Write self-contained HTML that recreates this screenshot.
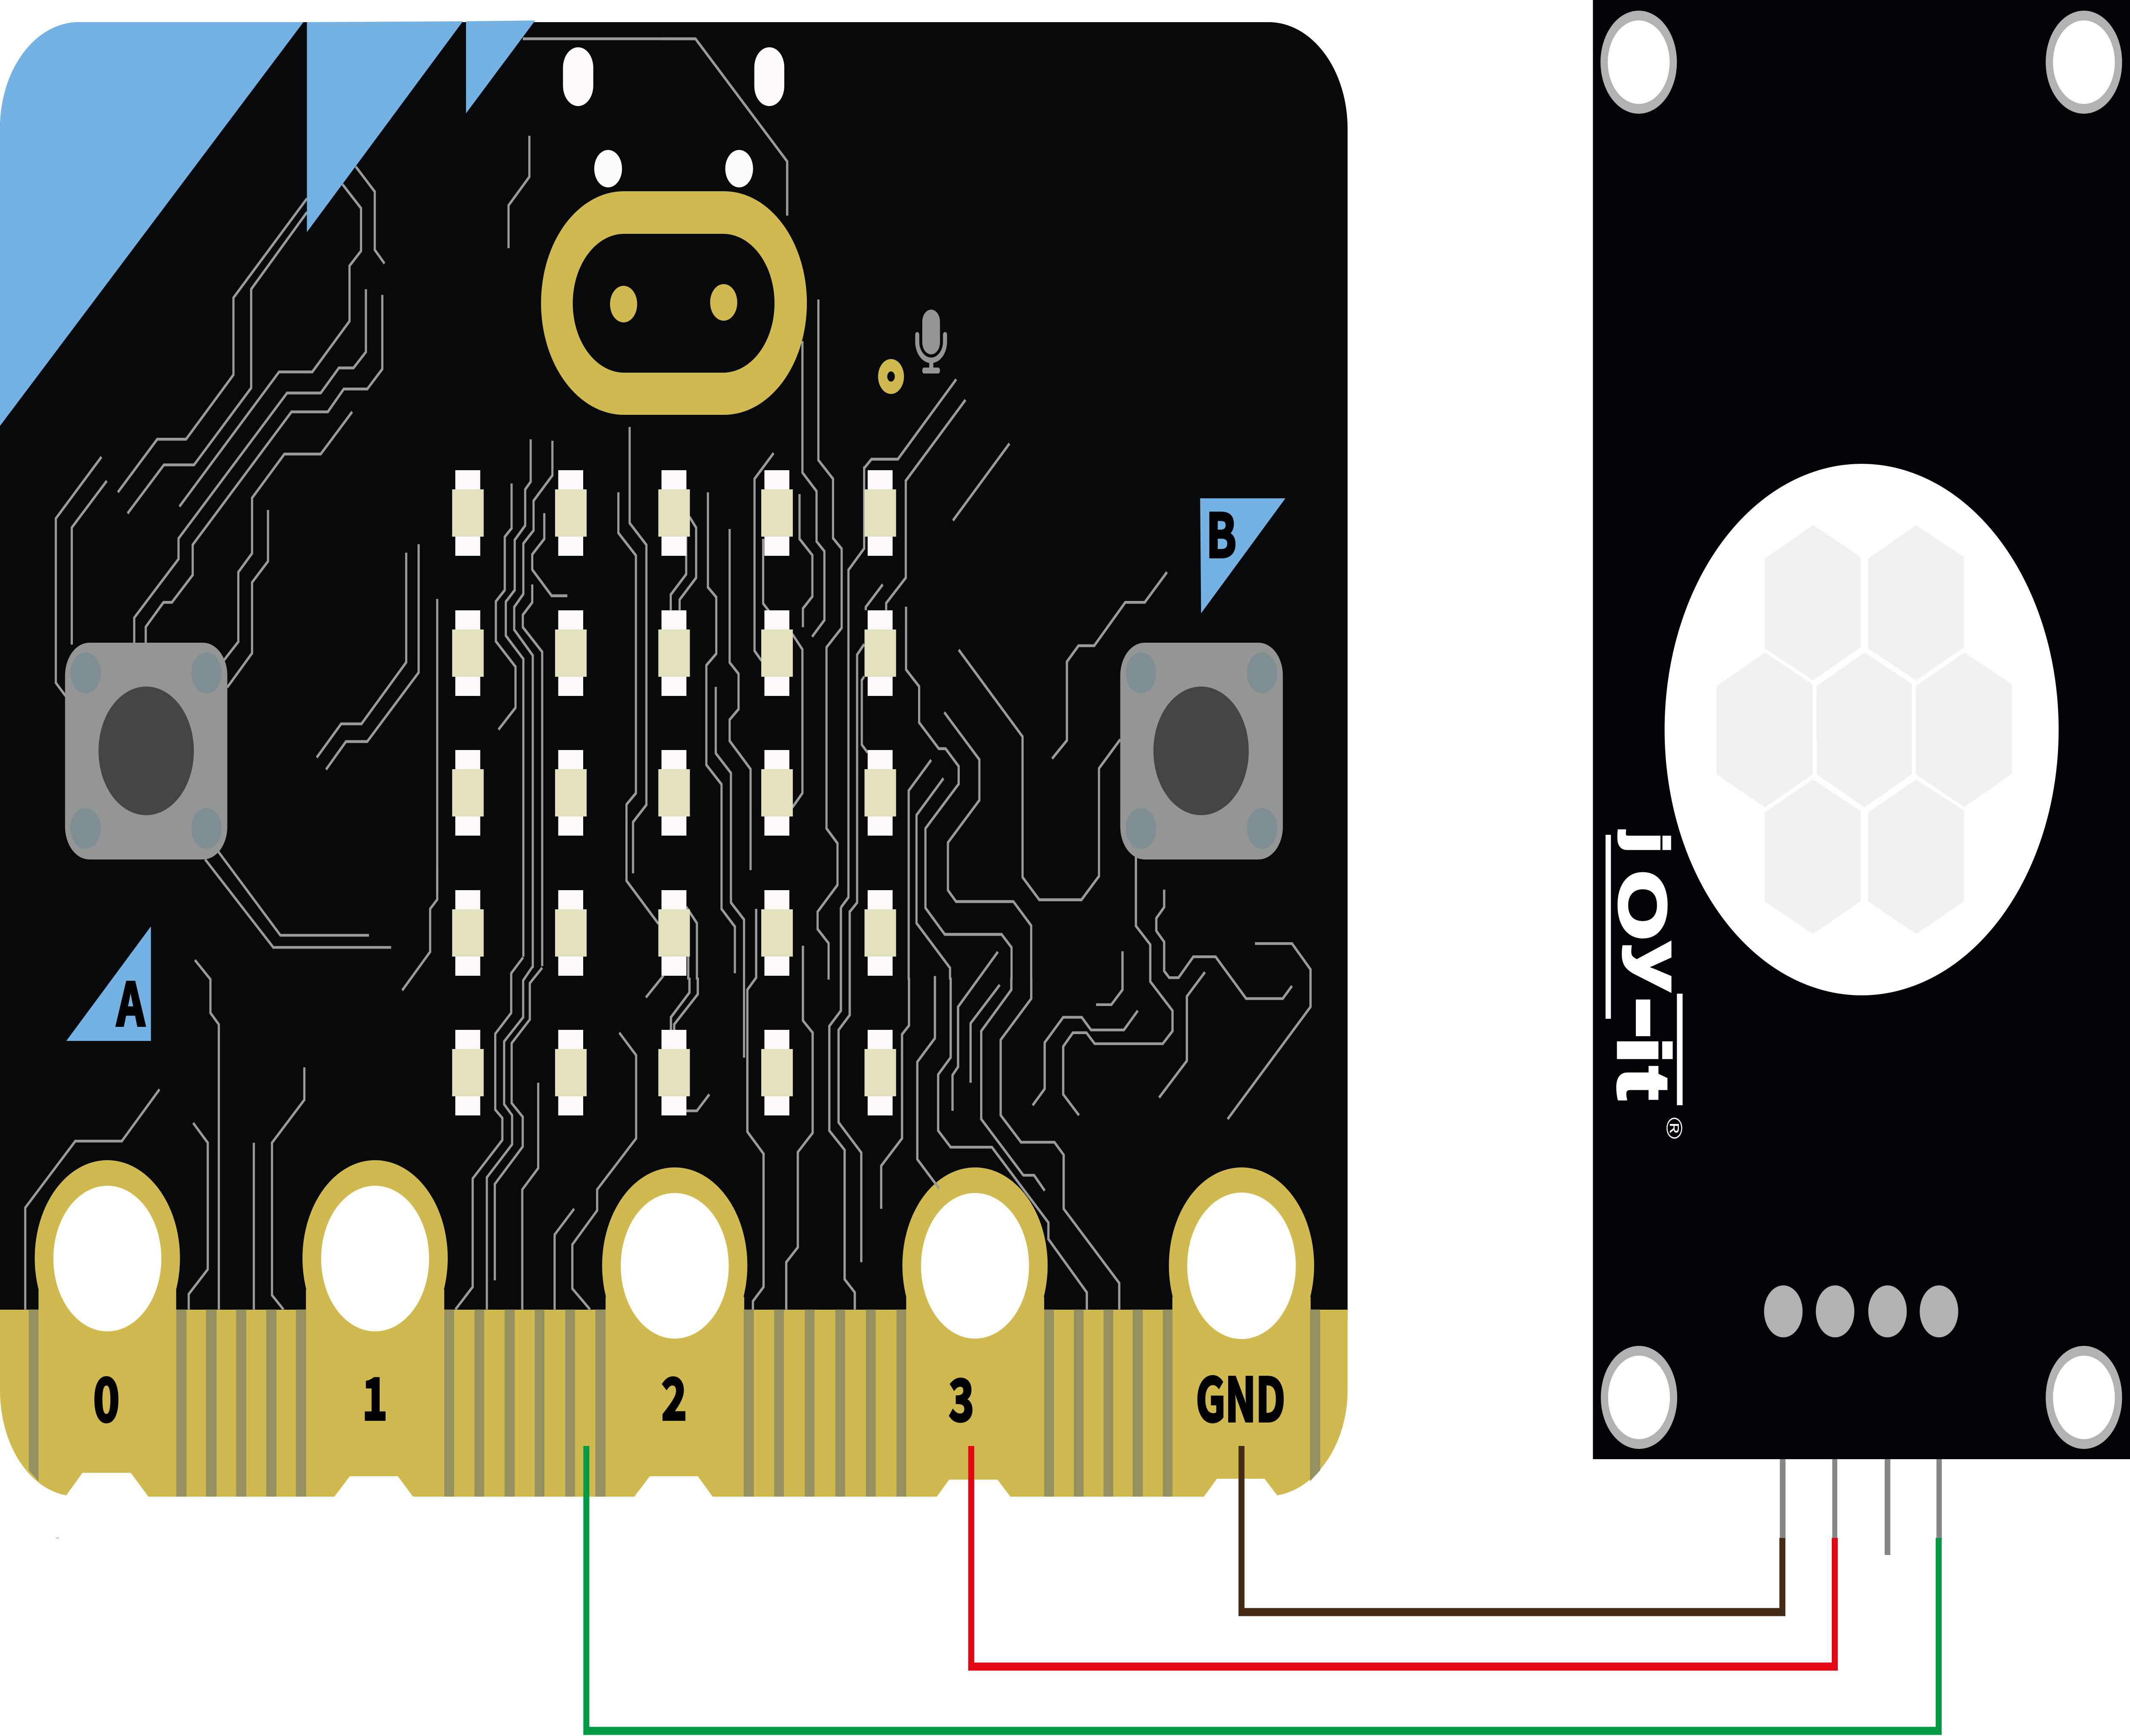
<!DOCTYPE html>
<html><head><meta charset="utf-8"><style>
html,body{margin:0;padding:0;background:#fff;width:100%;height:100%;overflow:hidden}
svg{display:block;width:100vw;height:100vh}
polyline{fill:none;stroke:#999b9b;stroke-linejoin:miter}
.l{font-family:"Noto Sans CJK JP","Liberation Sans",sans-serif;font-weight:700;fill:#000;stroke:#000;stroke-width:6;text-anchor:middle}
.p{fill:#d0ba50}.h{fill:#fff}.s{fill:#949060}.led{fill:#fdf9fd}.bei{fill:#e3e1bd}
.bb{fill:#949695}.bd{fill:#444}.bc{fill:#7e8e92}.hex{fill:#f1f1ef}.ring{fill:#b2b2b2}
.logo{font-family:"Liberation Sans",sans-serif;font-weight:700;fill:#fff;stroke:#fff;stroke-width:10}
</style></head><body>
<svg xmlns="http://www.w3.org/2000/svg" viewBox="0 0 6746 4076" preserveAspectRatio="none">
<rect width="6746" height="4076" fill="#fff"/>

<!-- micro:bit board -->
<path d="M0,3100V302A250,250 0 0 1 250,52H4018A250,250 0 0 1 4268,302V3100Z" fill="#07090b"/>

<!-- pads and gold edge -->
<g class="p">
<circle cx="340" cy="2954" r="230"/><rect x="122" y="3028" width="436" height="80"/>
<circle cx="1188" cy="2954" r="230"/><rect x="969" y="3028" width="438" height="80"/>
<circle cx="2137" cy="2971" r="230"/><rect x="1918" y="3045" width="439" height="60"/>
<circle cx="3088" cy="2971" r="230"/><rect x="2870" y="3045" width="437" height="60"/>
<circle cx="3932" cy="2971" r="230"/><rect x="3713" y="3045" width="438" height="60"/>
<path d="M0,3075H4268V3264C4268,3390 4170,3495 4045,3511L4005,3472H3854L3813,3514H3200L3159,3474H3006L2967,3514H2257L2210,3466H2058L2009,3514H1308L1260,3466H1108L1059,3514H470L414,3458H261L210,3511C90,3495 0,3390 0,3264Z"/>
</g>
<g class="s" transform="translate(0,2050) scale(1.403,1.2921)">
<polygon points="65,793 87,793 87,1105 65,1085"/>
<rect x="398" y="793" width="23" height="340"/><rect x="465" y="793" width="24" height="340"/><rect x="533" y="793" width="23" height="340"/><rect x="601" y="793" width="23" height="340"/><rect x="668" y="793" width="23" height="340"/>
<rect x="1003" y="793" width="22" height="340"/><rect x="1071" y="793" width="22" height="340"/><rect x="1139" y="793" width="23" height="340"/><rect x="1207" y="793" width="22" height="340"/><rect x="1276" y="793" width="22" height="340"/><rect x="1344" y="793" width="23" height="340"/>
</g>
<g class="s" transform="translate(2100,2050) scale(1.4668,1.2921)">
<rect x="174" y="793" width="22" height="340"/><rect x="240" y="793" width="21" height="340"/><rect x="306" y="793" width="21" height="340"/><rect x="372" y="793" width="21" height="340"/><rect x="438" y="793" width="21" height="340"/><rect x="504" y="793" width="21" height="340"/>
<rect x="823" y="793" width="21" height="340"/><rect x="887" y="793" width="21" height="340"/><rect x="951" y="793" width="21" height="340"/><rect x="1014" y="793" width="22" height="340"/><rect x="1079" y="793" width="21" height="340"/>
<polygon points="1397,793 1419,793 1419,1085 1397,1105"/>
</g>
<g class="h">
<circle cx="340" cy="2955" r="171"/><circle cx="1188" cy="2955" r="171"/><circle cx="2137" cy="2972" r="171"/><circle cx="3088" cy="2972" r="171"/><circle cx="3932" cy="2972" r="172"/>
</g>

<!-- traces: upper left -->
<g transform="scale(1.403,1.3393)" stroke-width="5">
<polyline points="1195,238 1195,310 1148,360 1148,435"/>
<polyline points="1180,68 1568,68"/>
<polyline points="693,348 527,522 527,657 420,770 355,770 266,863"/>
<polyline points="693,372 567,507 567,680 438,815 370,815 288,900"/>
<polyline points="773,323 815,365 815,440 789,466 789,563 705,652 630,652 405,888"/>
<polyline points="803,292 846,336 846,438 868,462"/>
<polyline points="826,507 826,617 798,645 765,645 724,689 648,689 403,944 403,980 303,1083 303,1127"/>
<polyline points="863,517 863,647 829,682 776,682 740,722 658,722 435,955 435,1008 388,1056 369,1056 329,1099 329,1127"/>
<polyline points="795,722 724,796 642,796 569,873 569,970 538,1003 538,1125 505,1158"/>
<polyline points="605,894 605,984 569,1021 569,1145 513,1205"/>
<polyline points="229,801 126,909 126,1197 148,1220"/>
<polyline points="241,843 162,925 162,1130"/>
<polyline points="917,969 917,1161 816,1269 770,1269 715,1328"/>
<polyline points="945,954 945,1179 829,1300 781,1300 736,1349"/>
<polyline points="987,1050 987,1568"/>
</g>
<!-- traces: upper right -->
<g transform="translate(2100,0) scale(1.4668,1.3393)" stroke-width="5">
<polyline points="0,68 70,68 268,283 268,378"/>
<polyline points="633,665 507,805 450,805 435,820"/>
<polyline points="653,701 523,844"/>
<polyline points="1088,1003 1040,1056 998,1056 931,1132 897,1132 872,1160 872,1298 840,1330"/>
</g>
<!-- traces: centre left -->
<g transform="translate(1500,1000) scale(0.8291)" stroke-width="8.4">
<polyline points="145,163 145,290 119,314 119,465 85,497 85,610 160,682 160,798 95,860"/>
<polyline points="218,38 218,158 197,180 197,282 157,323 157,465 123,498 123,594 190,660 190,1503"/>
<polyline points="301,42 301,140 229,212 229,296 190,333 190,476 155,513 155,577 226,650 226,1535"/>
<polyline points="270,247 270,320 224,364 224,407 298,481 358,481"/>
<polyline points="224,449 224,500 188,535 188,570 262,640 262,1530"/>
<polyline points="553,188 553,303 620,367 620,1040 584,1072 584,1288 706,1410"/>
<polyline points="596,3 596,275 660,337 660,1073 609,1122 609,1267"/>
<polyline points="825,258 850,288 850,430 787,492 787,522"/>
<polyline points="812,310 812,420 753,478 753,522"/>
<polyline points="895,188 895,457 927,485 927,645 889,678 889,960 947,1015 947,1368 998,1418 998,1550"/>
<polyline points="925,739 925,927 983,983 983,1350 1033,1398 1033,1789"/>
<polyline points="978,292 978,670 1012,702 1012,802 978,832 978,892 1058,972 1058,1258"/>
<polyline points="1146,77 1073,150 1073,637 1100,665"/>
<polyline points="1106,320 1106,503 1132,528"/>
<polyline points="1256,-240 1256,132 1310,185 1310,327 1340,355 1340,550 1293,597"/>
<polyline points="1317,-358 1317,97 1373,150 1373,318 1406,348 1406,572 1348,627 1348,1140 1390,1182 1390,1300 1314,1376 1314,1425 1356,1465 1356,1568"/>
<polyline points="1245,193 1245,320 1294,366 1294,483 1258,517 1258,570"/>
<polyline points="1218,590 1256,633 1256,1040 1218,1080"/>
<polyline points="812,1362 853,1408 853,1568"/>
<polyline points="820,1415 820,1568"/>
</g>
<!-- traces: centre right -->
<g transform="translate(2300,1000) scale(0.8291)" stroke-width="8.4">
<polyline points="527,115 527,347 467,408 467,1335 438,1364"/>
<polyline points="598,449 533,513 533,522"/>
<polyline points="611,522 611,502 686,430 686,155 700,141"/>
<polyline points="527,618 500,648 500,1350 472,1376"/>
<polyline points="527,710 518,720 518,903 540,925"/>
<polyline points="687,512 687,690 737,738 737,840 812,914 838,914 888,964 888,1014 761,1140 761,1365 835,1440 1052,1440 1090,1477 1090,1568"/>
<polyline points="833,811 967,945 967,1060 847,1180 847,1315 878,1347 1097,1347 1165,1415 1165,1568"/>
<polyline points="783,946 697,1033 697,1568"/>
<polyline points="830,998 727,1102 727,1408 855,1535 855,1568"/>
<polyline points="888,634 1132,880 1132,1278 1196,1342 1357,1342 1424,1275 1424,970 1505,888"/>
<polyline points="1082,50 866,268"/>
</g>
<!-- traces: lower left -->
<g transform="translate(0,2050) scale(1.403,1.2921)" stroke-width="5">
<polyline points="987,-10 987,48 971,65 971,143 908,213"/>
<polyline points="463,-25 617,135 883,135"/>
<polyline points="492,-40 633,113 833,113"/>
<polyline points="1181,153 1154,182 1154,254 1118,292 1118,430 1134,445 1134,485 1067,555 1067,752 1028,793"/>
<polyline points="1202,170 1181,195 1181,262 1138,306 1138,420 1156,440 1156,493 1099,553 1099,793"/>
<polyline points="1224,172 1196,200 1196,266 1155,309 1155,418 1180,443 1180,497 1117,565 1117,740"/>
<polyline points="1498,186 1458,226"/>
<polyline points="1398,290 1436,331 1436,482 1348,575 1348,613 1292,675 1292,755 1332,793"/>
<polyline points="1296,610 1252,657 1252,793"/>
<polyline points="1215,381 1215,536 1179,575 1179,793"/>
<polyline points="440,158 475,193 475,254 494,275 494,793"/>
<polyline points="360,393 275,487 170,487 57,608 57,793"/>
<polyline points="436,454 469,490 469,720 426,765 426,793"/>
<polyline points="573,490 573,793"/>
<polyline points="687,353 687,412 614,490 614,767 640,793"/>
</g>
<!-- traces: lower right -->
<g transform="translate(2100,2050) scale(1.4668,1.2921)" stroke-width="5">
<polyline points="201,65 201,190 182,212 182,470 217,510 217,752 194,778 194,793"/>
<polyline points="302,132 302,268 323,290 323,472 291,507 291,680 266,707 266,793"/>
<polyline points="384,62 384,250 359,278 359,468 392,503 392,738 414,762 414,793"/>
<polyline points="403,68 403,258 379,285 379,453 428,508 428,707"/>
<polyline points="531,190 531,277 516,293 516,482 471,532 471,610"/>
<polyline points="587,187 587,300 549,343 549,520 596,573"/>
<polyline points="621,190 621,335 594,366 594,468 621,498 710,498 832,635 832,665 915,762 915,793"/>
<polyline points="752,190 752,212 687,287 687,447 778,549 801,549 824,577"/>
<polyline points="795,190 795,228 729,303 729,440 773,489 845,489 865,512 865,610 985,745 985,793"/>
<polyline points="723,143 637,243 637,352 625,367 625,432"/>
<polyline points="727,203 664,273 664,381"/>
<polyline points="1021,-30 1021,96 1052,130 1052,197 1100,250 1100,287 1079,310 932,310 914,290 885,290 864,315 864,402 898,440"/>
<polyline points="1082,30 1082,62 1065,82 1065,105 1082,125 1082,178 1093,190 1113,190 1145,152 1193,152 1259,228 1338,228 1358,205"/>
<polyline points="1278,128 1358,128 1398,175 1398,243 1219,447"/>
<polyline points="1170,180 1131,224 1131,341 1071,408"/>
<polyline points="992,142 992,212 968,239 935,239"/>
<polyline points="1025,250 995,285 924,285 904,262 864,262 824,308 824,392 798,422"/>
<polyline points="100,402 73,432 50,432"/>
<polyline points="75,190 75,220 24,275 24,287"/>
<polyline points="57,190 57,217 17,262 17,287"/>
</g>

<!-- blue triangles -->
<g fill="#74b2e4">
<path d="M961,52H250C110,52 0,165 0,300V1000Z"/>
<polygon points="972,52 1466,50 972,545"/>
<polygon points="1476,50 1695,48 1476,266"/>
<polygon points="3801,1170 4071,1170 3804,1440"/>
<polygon points="478,2175 478,2444 210,2444"/>
</g>

<!-- top holes and ring -->
<rect x="1783" y="111" width="96" height="138" rx="48" fill="#fdf9fd"/>
<rect x="2389" y="111" width="95" height="138" rx="47" fill="#fdf9fd"/>
<circle cx="1926" cy="396" r="44" fill="#fdfbfd"/>
<circle cx="2341" cy="396" r="44" fill="#fdfbfd"/>
<path fill-rule="evenodd" class="p" d="M1976,449H2293A262.500,262.500 0 0 1 2293,974H1976A262.500,262.500 0 0 1 1976,449ZM1977,549A163,163 0 0 0 1977,875H2290A163,163 0 0 0 2290,549Z"/>
<circle cx="1975" cy="714" r="43" class="p"/>
<circle cx="2292" cy="710" r="43" class="p"/>

<!-- mic -->
<circle cx="2822" cy="884" r="41" class="p"/><circle cx="2822" cy="884" r="12" fill="#07090b"/>
<rect x="2921" y="727" width="56" height="105" rx="28" fill="#949695"/>
<path d="M2905,786V802A44,44 0 0 0 2993,802V786" fill="none" stroke="#949695" stroke-width="13" stroke-linecap="round"/>
<rect x="2943" y="850" width="13" height="18" fill="#949695"/>
<rect x="2921" y="863" width="56" height="14" rx="6" fill="#949695"/>

<!-- LEDs -->
<defs>
<g id="led"><rect x="0" y="0" width="79" height="201" class="led"/><rect x="-10" y="45" width="100" height="111" class="bei"/></g>
<g id="col"><use href="#led" y="1104"/><use href="#led" y="1433"/><use href="#led" y="1761"/><use href="#led" y="2090"/><use href="#led" y="2418"/></g>
</defs>
<use href="#col" x="1442"/><use href="#col" x="1768"/><use href="#col" x="2095"/><use href="#col" x="2421"/><use href="#col" x="2748"/>

<!-- buttons -->
<rect x="206" y="1509" width="514" height="509" rx="77" class="bb"/>
<circle cx="463" cy="1763" r="151" class="bd"/>
<circle cx="271" cy="1580" r="48" class="bc"/><circle cx="654" cy="1580" r="48" class="bc"/><circle cx="271" cy="1945" r="48" class="bc"/><circle cx="654" cy="1945" r="48" class="bc"/>
<rect x="3548" y="1509" width="515" height="509" rx="77" class="bb"/>
<circle cx="3804" cy="1763" r="151" class="bd"/>
<circle cx="3614" cy="1580" r="48" class="bc"/><circle cx="3997" cy="1580" r="48" class="bc"/><circle cx="3614" cy="1945" r="48" class="bc"/><circle cx="3997" cy="1945" r="48" class="bc"/>

<!-- labels -->
<text class="l" x="3868" y="1308" font-size="140">B</text>
<text class="l" x="414" y="2408" font-size="138">A</text>
<text class="l" x="337" y="3337" font-size="140">0</text>
<text class="l" x="1187" y="3333" font-size="134">1</text>
<text class="l" x="2135" y="3333" font-size="134">2</text>
<text class="l" x="3045" y="3336" font-size="134">3</text>
<text class="l" x="3929" y="3337" font-size="140" textLength="282" lengthAdjust="spacingAndGlyphs">GND</text>
<rect x="178" y="3610" width="8" height="2" fill="#f09090"/>

<!-- sensor pins -->
<rect x="5637" y="3420" width="18" height="195" fill="#868686"/>
<rect x="5803" y="3420" width="16" height="195" fill="#868686"/>
<rect x="5969" y="3420" width="18" height="231" fill="#868686"/>
<rect x="6133" y="3420" width="17" height="195" fill="#868686"/>

<!-- sensor board -->
<rect x="5045" y="0" width="1701" height="3426" fill="#020306"/>
<circle cx="5190" cy="146" r="121" class="ring"/><circle cx="5190" cy="146" r="98" fill="#fff"/>
<circle cx="6600" cy="146" r="121" class="ring"/><circle cx="6600" cy="146" r="98" fill="#fff"/>
<circle cx="5191" cy="3281" r="121" class="ring"/><circle cx="5191" cy="3281" r="98" fill="#fff"/>
<circle cx="6600" cy="3281" r="121" class="ring"/><circle cx="6600" cy="3281" r="98" fill="#fff"/>
<circle cx="5896" cy="1713" r="624" fill="#fff"/>
<g class="hex" transform="translate(5000,1000) scale(1.1135,0.8929)">
<polygon points="666,261 802,345 802,582 666,669 529,585 529,349"/>
<polygon points="960,261 1096,345 1096,582 960,669 823,585 823,349"/>
<polygon points="530,596 665,679 665,916 530,1003 392,916 392,684"/>
<polygon points="814,596 948,679 948,916 813,1003 677,916 676,684"/>
<polygon points="1097,596 1232,679 1232,915 1097,1002 959,916 959,684"/>
<polygon points="666,930 802,1013 802,1250 666,1336 529,1250 529,1016"/>
<polygon points="960,930 1096,1012 1096,1250 960,1336 823,1250 823,1016"/>
</g>
<circle cx="5648" cy="3079" r="61" class="ring"/><circle cx="5812" cy="3079" r="61" class="ring"/><circle cx="5978" cy="3079" r="61" class="ring"/><circle cx="6141" cy="3079" r="61" class="ring"/>

<!-- logo -->
<rect x="5085" y="1960" width="17" height="432" fill="#fff"/>
<rect x="5311" y="2333" width="18" height="262" fill="#fff"/>
<g transform="translate(5126,0) rotate(90)">
<text class="logo"><tspan x="1955" y="-37" font-size="172">j</tspan><tspan x="2044" y="-4" font-size="210">O</tspan><tspan x="2214" y="-57" font-size="200">y</tspan><tspan x="2340" y="0" font-size="300">-</tspan><tspan x="2434" y="0" font-size="230">i</tspan><tspan x="2505" y="0" font-size="230">t</tspan></text>
<text x="2623" y="-153" font-size="70" font-family="Liberation Sans,sans-serif" fill="#fff">®</text>
</g>

<!-- wires -->
<g fill="none" stroke-width="19" stroke-linejoin="miter">
<path d="M1857,3395V4064H6140V3611" stroke="#009a44"/>
<path d="M3076,3395V3913H5811V3611" stroke="#e30613"/>
<path d="M3932,3395V3785H5645V3611" stroke="#452a16"/>
</g>
</svg>
</body></html>
